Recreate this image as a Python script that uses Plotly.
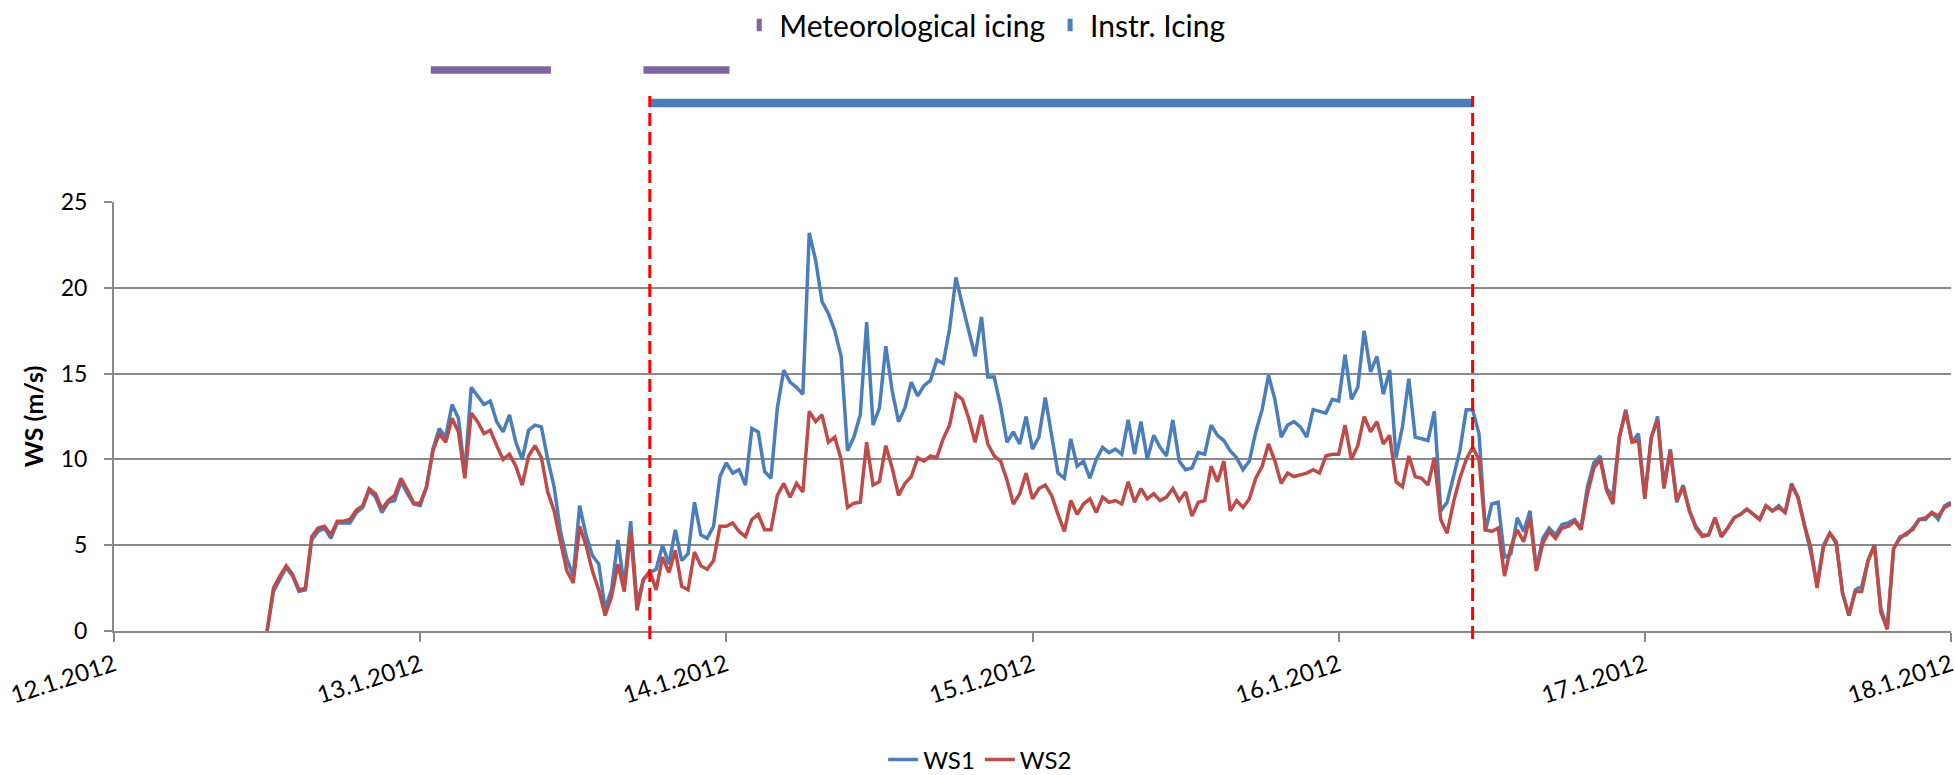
import pandas as pd
import plotly.graph_objects as go

# Half-hourly wind speed record, 12.1.2012 12:00 - 18.1.2012 00:00
times = pd.date_range("2012-01-12 12:00", "2012-01-18 00:00", freq="30min")

ws1 = [
    0.0, 2.3, 3.0, 3.7, 3.2, 2.3, 2.4, 5.3, 5.8, 6.0, 5.4, 6.3,
    6.3, 6.3, 6.9, 7.2, 8.2, 7.8, 6.9, 7.5, 7.6, 8.7, 8.0, 7.4,
    7.3, 8.4, 10.6, 11.8, 11.3, 13.2, 12.4, 9.2, 14.2, 13.7, 13.2, 13.4,
    12.2, 11.6, 12.6, 11.0, 10.0, 11.7, 12.0, 11.9, 10.0, 8.4, 5.8, 4.2,
    3.2, 7.3, 5.6, 4.4, 3.9, 1.3, 2.4, 5.3, 2.6, 6.4, 1.6, 3.0,
    3.4, 3.6, 5.0, 3.9, 5.9, 4.1, 4.5, 7.5, 5.6, 5.4, 6.1, 9.0,
    9.8, 9.2, 9.4, 8.5, 11.8, 11.6, 9.3, 8.9, 13.0, 15.2, 14.5, 14.2,
    13.8, 23.2, 21.6, 19.2, 18.5, 17.5, 16.0, 10.5, 11.3, 12.6, 18.0, 12.0,
    13.0, 16.6, 14.0, 12.2, 13.0, 14.5, 13.7, 14.3, 14.6, 15.8, 15.6, 17.6,
    20.6, 19.0, 17.5, 16.0, 18.3, 14.8, 14.8, 13.1, 11.0, 11.6, 10.9, 12.5,
    10.6, 11.3, 13.6, 11.3, 9.2, 8.9, 11.2, 9.6, 9.9, 8.9, 10.0, 10.7,
    10.4, 10.6, 10.3, 12.3, 10.3, 12.2, 10.0, 11.4, 10.7, 10.2, 12.3, 9.9,
    9.4, 9.5, 10.4, 10.3, 12.0, 11.4, 11.1, 10.5, 10.1, 9.4, 9.9, 11.6,
    12.9, 14.9, 13.5, 11.3, 12.0, 12.2, 11.9, 11.3, 12.9, 12.8, 12.7, 13.5,
    13.4, 16.1, 13.5, 14.2, 17.5, 15.1, 16.0, 13.8, 15.2, 10.1, 11.9, 14.7,
    11.3, 11.2, 11.1, 12.8, 7.0, 7.5, 9.0, 10.5, 12.9, 12.9, 11.5, 5.8,
    7.4, 7.5, 4.3, 4.5, 6.6, 5.8, 7.0, 3.6, 5.4, 6.0, 5.6, 6.2,
    6.3, 6.5, 6.0, 8.4, 9.8, 10.2, 8.3, 7.9, 11.3, 12.9, 11.0, 11.5,
    7.8, 11.2, 12.5, 8.5, 10.6, 7.5, 8.5, 7.0, 6.1, 5.6, 5.6, 6.6,
    5.5, 6.0, 6.6, 6.8, 7.1, 6.8, 6.5, 7.3, 7.0, 7.3, 6.9, 8.6,
    7.8, 6.2, 4.6, 2.7, 5.0, 5.7, 5.1, 2.2, 0.9, 2.4, 2.6, 4.1,
    5.0, 1.3, 0.2, 4.8, 5.5, 5.6, 6.0, 6.5, 6.5, 6.9, 6.5, 7.3,
    7.5,
]

ws2 = [
    0.0, 2.5, 3.2, 3.8, 3.3, 2.4, 2.5, 5.5, 6.0, 6.1, 5.6, 6.4,
    6.4, 6.5, 7.05, 7.3, 8.3, 8.0, 7.1, 7.6, 7.9, 8.9, 8.2, 7.45,
    7.45, 8.4, 10.5, 11.5, 11.0, 12.4, 11.6, 8.9, 12.7, 12.2, 11.5, 11.7,
    10.8, 10.0, 10.3, 9.6, 8.5, 10.2, 10.8, 10.1, 8.1, 7.0, 5.2, 3.5,
    2.8, 6.1, 5.0, 3.5, 2.4, 0.9, 2.0, 3.9, 2.3, 5.8, 1.2, 3.0,
    3.5, 2.4, 4.3, 3.4, 4.7, 2.6, 2.4, 4.6, 3.8, 3.6, 4.1, 6.1,
    6.1, 6.3, 5.8, 5.5, 6.5, 6.8, 5.9, 5.9, 7.9, 8.6, 7.8, 8.6,
    8.1, 12.8, 12.2, 12.6, 11.0, 11.3, 10.0, 7.2, 7.45, 7.5, 11.0, 8.5,
    8.7, 10.8, 9.5, 7.9, 8.6, 9.0, 10.1, 9.9, 10.2, 10.1, 11.2, 12.0,
    13.8, 13.5, 12.4, 11.0, 12.6, 10.9, 10.2, 9.9, 8.8, 7.4, 8.0, 9.2,
    7.7, 8.3, 8.5, 7.9, 6.8, 5.8, 7.6, 6.8, 7.4, 7.7, 6.9, 7.8,
    7.5, 7.6, 7.4, 8.7, 7.5, 8.3, 7.7, 8.0, 7.6, 7.8, 8.3, 7.6,
    8.1, 6.7, 7.5, 7.6, 9.6, 8.7, 9.9, 7.0, 7.6, 7.2, 7.7, 8.9,
    9.6, 10.9, 9.9, 8.6, 9.2, 9.0, 9.1, 9.2, 9.4, 9.2, 10.2, 10.3,
    10.3, 12.0, 10.0, 10.8, 12.5, 11.6, 12.2, 10.9, 11.4, 8.7, 8.4, 10.2,
    9.0, 8.9, 8.5, 10.1, 6.5, 5.7, 7.5, 8.9, 10.0, 10.7, 10.0, 5.9,
    5.8, 6.0, 3.2, 4.9, 5.9, 5.2, 6.6, 3.5, 5.1, 5.8, 5.4, 6.0,
    6.1, 6.4, 5.9, 8.0, 9.5, 10.0, 8.2, 7.4, 11.3, 12.8, 11.0, 11.1,
    7.7, 11.3, 12.3, 8.3, 10.5, 7.6, 8.4, 7.0, 6.0, 5.5, 5.6, 6.6,
    5.5, 6.0, 6.6, 6.8, 7.1, 6.8, 6.5, 7.3, 7.0, 7.2, 6.9, 8.5,
    7.8, 6.2, 4.9, 2.5, 4.9, 5.7, 5.2, 2.2, 0.9, 2.3, 2.3, 4.1,
    5.0, 1.1, 0.1, 4.8, 5.4, 5.7, 5.9, 6.5, 6.6, 6.9, 6.7, 7.2,
    7.4,
]

# Icing periods
icing_start = "2012-01-13 18:00"
icing_end = "2012-01-16 10:30"
met_icing_periods = [
    ("2012-01-13 00:50", "2012-01-13 10:15"),
    ("2012-01-13 17:30", "2012-01-14 00:15"),
]
MET_LEVEL = 2
INSTR_LEVEL = 1

day_ticks = pd.date_range("2012-01-12", "2012-01-18", freq="D")
tick_text = [f"{d.day}.{d.month}.{d.year}" for d in day_ticks]

BLUE = "#4A7EBB"
RED = "#BE4B48"
PURPLE = "#8064A2"
GRID = "#898989"
FONT = "Lato"

# layout geometry (pixels)
W, H = 1955, 775
M_L, M_R, M_T, M_B = 114, 4, 10, 144
plot_h = H - M_T - M_B
main_top_px = 202  # pixel row of the 25 m/s gridline
main_top = (H - M_B - main_top_px) / plot_h

def py(px_row):
    """Convert a pixel row to a paper y coordinate."""
    return (H - M_B - px_row) / plot_h

fig = go.Figure()

fig.add_trace(go.Scatter(
    x=times, y=ws1, name="WS1", mode="lines",
    line=dict(color=BLUE, width=3.5), legend="legend",
))
fig.add_trace(go.Scatter(
    x=times, y=ws2, name="WS2", mode="lines",
    line=dict(color=RED, width=3.5), legend="legend",
))

# icing bars on a separate strip above the wind-speed panel
met_x, met_y = [], []
for s, e in met_icing_periods:
    met_x += [s, e, None]
    met_y += [MET_LEVEL, MET_LEVEL, None]
fig.add_trace(go.Scatter(
    x=met_x, y=met_y, yaxis="y2", mode="lines", showlegend=False,
    line=dict(color=PURPLE, width=7.5), connectgaps=False, hoverinfo="skip",
))
fig.add_trace(go.Scatter(
    x=[icing_start, icing_end], y=[INSTR_LEVEL, INSTR_LEVEL], yaxis="y2",
    mode="lines", showlegend=False, line=dict(color=BLUE, width=8.5),
    hoverinfo="skip",
))

# legend entries for the icing strip
for name, col in [("Meteorological icing", PURPLE), ("Instr. Icing", BLUE)]:
    fig.add_trace(go.Scatter(
        x=[None], y=[None], yaxis="y2", mode="markers", name=name,
        marker=dict(symbol="line-ns", size=9, line=dict(color=col, width=5)),
        legend="legend2",
    ))

# dashed markers for start / end of instrument icing
shapes = []
for t in (icing_start, icing_end):
    shapes.append(dict(
        type="line", xref="x", yref="paper", x0=t, x1=t,
        y0=py(639), y1=py(96),
        line=dict(color="#FF0000", width=3, dash="13px,6px"),
        layer="above",
    ))

fig.update_layout(
    width=W, height=H, autosize=False,
    margin=dict(l=M_L, r=M_R, t=M_T, b=M_B, autoexpand=False),
    paper_bgcolor="white", plot_bgcolor="white",
    font=dict(family=FONT, size=22, color="black"),
    shapes=shapes,
    xaxis=dict(
        type="date", range=["2012-01-12", "2012-01-18"],
        tickvals=day_ticks, ticktext=tick_text, tickangle=-18,
        ticks="outside", ticklen=9, tickwidth=2, tickcolor=GRID,
        showline=True, linecolor=GRID, linewidth=2,
        showgrid=False, zeroline=False, anchor="y",
        tickfont=dict(size=24), ticklabeloverflow="allow",
    ),
    yaxis=dict(
        domain=[0, main_top], range=[0, 25], dtick=5,
        ticks="outside", ticklen=8, tickwidth=2, tickcolor=GRID,
        showline=True, linecolor=GRID, linewidth=2,
        showgrid=True, gridcolor=GRID, gridwidth=2, zeroline=False,
        tickfont=dict(size=23), ticklabelstandoff=12,
        title=dict(text="<b>WS (m/s)</b>", standoff=10, font=dict(size=25)),
    ),
    yaxis2=dict(
        domain=[main_top, 1], range=[-2, 3.818], visible=False, anchor="x",
    ),
    legend=dict(
        orientation="h", x=0.4715, xanchor="center",
        y=py(760), yanchor="middle", font=dict(size=24),
        bgcolor="rgba(0,0,0,0)",
    ),
    legend2=dict(
        orientation="h", x=0.474, xanchor="center",
        y=py(25), yanchor="middle", font=dict(size=30),
        bgcolor="rgba(0,0,0,0)",
    ),
)

fig.write_html("out.html")
